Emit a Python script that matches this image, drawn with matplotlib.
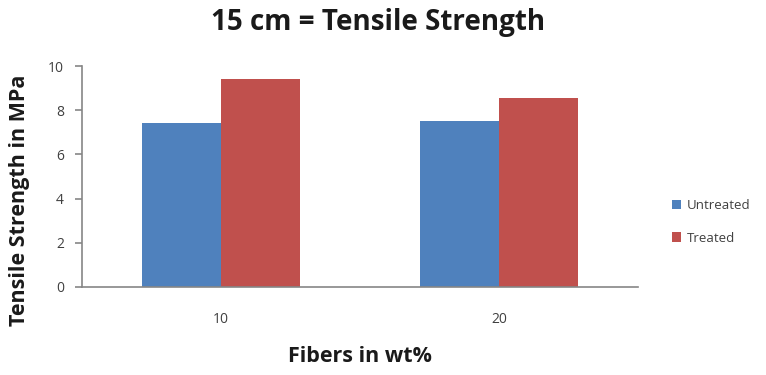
import matplotlib
matplotlib.use("Agg")
import matplotlib.pyplot as plt
import numpy as np

categories = ["10", "20"]
untreated = [7.43, 7.52]
treated = [9.40, 8.55]
y_ticks = [0, 2, 4, 6, 8, 10]

plt.rcParams["font.family"] = ["Open Sans", "DejaVu Sans"]

fig = plt.figure(figsize=(7.66, 3.75), dpi=100)
ax = fig.add_axes([0.107, 0.235, 0.726, 0.589])

x = np.arange(len(categories))
width = 0.2857
blue = "#4F81BD"
red = "#C0504D"
ax.bar(x - width / 2, untreated, width, color=blue, label="Untreated")
ax.bar(x + width / 2, treated, width, color=red, label="Treated")

ax.set_xlim(-0.5, len(categories) - 0.5)
ax.set_ylim(0, 10)
ax.set_yticks(y_ticks)
ax.set_xticks(x)
ax.set_xticklabels(categories)

grey = "#868686"
for side in ["top", "right"]:
    ax.spines[side].set_visible(False)
for side in ["left", "bottom"]:
    ax.spines[side].set_color(grey)
    ax.spines[side].set_linewidth(1.2)
ax.tick_params(axis="y", colors=grey, labelcolor="#404040", labelsize=10,
               length=5, width=1.2, pad=8)
ax.tick_params(axis="x", length=0, labelcolor="#404040", labelsize=10, pad=18)

fig.text(0.493, 0.94, "15 cm = Tensile Strength", ha="center", va="center",
         fontsize=20, fontweight="bold", color="#1a1a1a")
ax.set_xlabel("Fibers in wt%", fontsize=15.5, fontweight="bold", color="#1a1a1a",
              labelpad=14)
fig.text(0.025, 0.467, "Tensile Strength in MPa", rotation=90, ha="center",
         va="center", fontsize=15.5, fontweight="bold", color="#1a1a1a")

leg = fig.legend(loc="upper left", bbox_to_anchor=(0.862, 0.5), frameon=False,
                 fontsize=9.5, handlelength=0.7, handleheight=0.7,
                 handletextpad=0.4, labelspacing=1.45)
for t in leg.get_texts():
    t.set_color("#404040")

fig.savefig("out.png", dpi=100)
